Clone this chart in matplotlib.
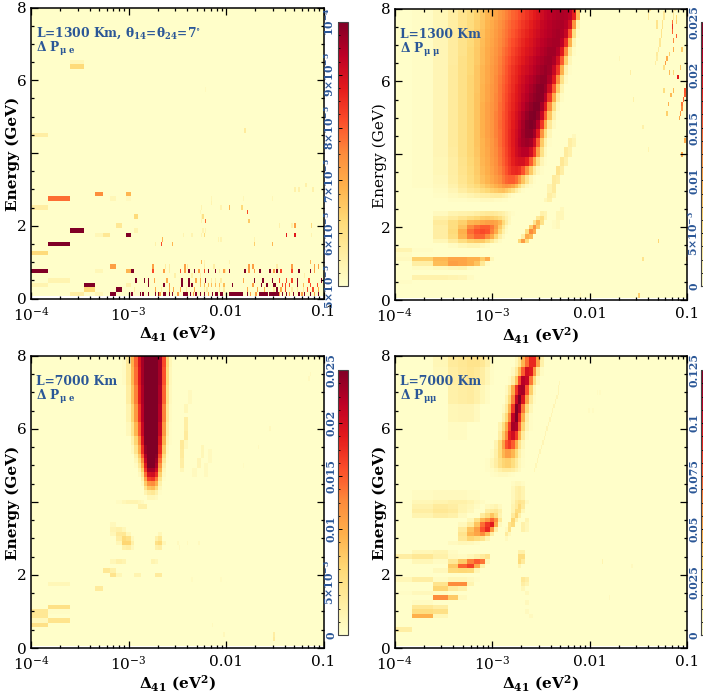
#!/usr/bin/env python3
"""Four oscillation-difference heat maps over Delta_41 and energy."""

import matplotlib
matplotlib.use("Agg")
import matplotlib.pyplot as plt
import numpy as np
from matplotlib.ticker import FixedLocator

plt.rcParams["font.family"] = "DejaVu Serif"
plt.rcParams["mathtext.fontset"] = "dejavuserif"

BLUE = "#2b5797"
W, H = 703, 698

# column edges of the coarse part of each map, in units of 1e-4 eV^2
DELTA_EDGES = [1, 1.5, 2.5, 3.5, 4.5, 5.5, 6.5, 7.5, 8.5, 9.5, 10.5, 11.5, 12.5, 13.5, 14.5,
               15.5, 17, 18.5, 20, 22, 24, 26, 28, 31, 34, 37, 41, 45, 50, 55, 60, 66, 72, 80, 1000]
ENERGY_STEP = 0.125
X_TICKS = [1e-4, 1e-3, 0.01, 0.1]
X_LABELS = [r"$10^{-4}$", r"$10^{-3}$", "0.01", "0.1"]
Y_TICKS = [0, 2, 4, 6, 8]
Y_LABELS = ["0", "2", "", "6", "8"]

# coarse rows: (energy low, energy high, first column, values)
# marks: (energy, value, [Delta_41 in 1e-3 eV^2])

# panel 1, values in 1e-6
PMUE_1300_ROWS = [
    (6.375, 6.375, 2, [62]), (6.5, 6.5, 2, [53]), (4.5, 4.5, 0, [56]),
    (2.75, 2.75, 1, [78]), (2.75, 2.75, 6, [53]), (2.75, 2.75, 9, [52]), (2.5, 2.5, 0, [56]),
    (2.875, 2.875, 4, [75]), (2.875, 2.875, 9, [68]), (2.25, 2.25, 11, [62]),
    (2.0, 2.0, 7, [58]), (1.875, 1.875, 2, [100]), (1.875, 1.875, 11, [54]),
    (1.75, 1.75, 4, [53, 58]), (1.75, 1.75, 9, [100]), (1.5, 1.5, 1, [100]), (1.25, 1.25, 0, [62]),
    (0.75, 0.75, 0, [100]), (0.75, 0.75, 4, [53]), (0.75, 0.75, 9, [68, 100]), (0.875, 0.875, 6, [72]),
    (0.5, 0.5, 1, [54]), (0.375, 0.375, 0, [54]), (0.375, 0.375, 3, [100]), (0.375, 0.375, 9, [55]),
    (0.25, 0.25, 3, [62]), (0.25, 0.25, 7, [100]),
    (0.125, 0.125, 2, [56]), (0.125, 0.125, 4, [53]), (0.125, 0.125, 6, [100]),
]
PMUE_1300_MARKS = [
    (0.125, 100, [1.03, 1.1, 1.32, 1.4, 1.6, 1.87, 2.03, 2.28, 2.43, 2.67, 2.84, 3.66, 3.8, 3.95, 4.1, 4.3,
                  5.0, 5.4, 6.1, 7.4, 7.8, 8.2, 8.8, 9.2, 10.8, 11.2, 11.6, 12.0, 12.4, 12.8, 13.2, 13.6, 14.0, 14.4,
                  16.5, 22.5, 23.3, 24.1, 24.9, 25.7, 26.5, 28, 29, 30, 31, 32, 33, 34, 38, 42, 49, 56, 65, 74, 88]),
    (0.125, 72, [3.25, 2.1, 4.6, 6.6, 18, 20, 35, 45, 60, 80]),
    (0.25, 100, [33]), (0.25, 82, [40, 68, 78]),
    (0.25, 70, [1.9, 2.6, 2.9, 3.4, 4.7, 16.5, 21, 25, 37, 90]),
    (0.25, 56, [1.15, 2.2, 3.9, 6.0, 6.5, 8.5, 9.5, 31, 47, 55, 62]),
    (0.375, 100, [1.6, 2.3, 3.5, 4.2, 4.5, 11.5, 22.8, 26, 31, 32, 55]),
    (0.375, 82, [38, 41, 45, 72, 85]), (0.375, 72, [2.6, 19]),
    (0.375, 67, [5.5, 6.1, 6.6, 7.1, 7.8, 8.6, 9.4, 62]),
    (0.5, 100, [1.2, 1.45, 1.6, 3.6, 4.2, 6.3, 19.5, 24, 30, 55, 96]),
    (0.5, 82, [36, 42, 48, 70]), (0.5, 70, [1.85, 2.5, 5.0, 5.5, 15]), (0.5, 56, [7.1, 7.8, 9]),
    (0.625, 55, [3.0, 4.4, 5.5, 64]),
    (0.75, 100, [4.2, 4.8, 6.6, 7.7, 10.9, 15.7, 22.6, 28, 33, 57, 74]),
    (0.75, 82, [1.75, 3.38, 6.1, 37, 47]), (0.75, 72, [2.3, 3.8, 5.3, 9.6, 17.4, 19.6, 31.6, 82]),
    (0.75, 56, [2.6, 8.5, 10]),
    (0.875, 72, [1.77, 3.75, 17.2, 19.3, 47, 80, 88]), (0.875, 56, [2.4, 2.6, 4.1, 6, 7.6, 33]),
    (1.0, 68, [5.6, 72]), (1.0, 54, [6.0, 11]),
    (1.5, 82, [2.16]), (1.5, 68, [2.85, 30]), (1.5, 55, [1.88]), (1.5, 64, [19.5]),
    (1.625, 68, [2.23]), (1.625, 54, [8.4, 9, 19.5]),
    (1.75, 88, [42, 51]), (1.75, 62, [6.1]), (1.75, 54, [3.66, 4.45, 5.6, 75]),
    (1.875, 54, [5.87, 6.3]),
    (2.0, 72, [51]), (2.0, 55, [36, 48]), (2.0, 62, [75]),
    (2.125, 78, [6.3]), (2.125, 65, [17]), (2.125, 54, [5.6]),
    (2.25, 60, [5.87]), (2.25, 53, [5.6]),
    (2.375, 82, [16.5]), (2.375, 53, [5.4]),
    (2.5, 68, [10.8]), (2.5, 62, [14.7]), (2.5, 54, [5.6, 8.8]),
    (2.625, 54, [7.0]), (2.75, 53, [7.0, 15, 30]),
    (3.0, 55, [51, 57, 78]), (3.125, 55, [66]),
    (4.625, 57, [15.6]), (5.75, 52, [6.2]),
]

# panel 2, values in % of 0.025
PMUMU_1300_ROWS = [
    (7.75, 8.0, 0, [1, 2, 6, 12, 18, 22, 27, 31, 36, 38, 42, 46, 49, 52, 55, 58, 60, 63, 66, 69, 72, 75, 78, 82, 85, 87, 89, 90, 91, 90, 87, 74, 35]),
    (7.5, 7.625, 0, [1, 2, 6, 12, 18, 23, 28, 32, 37, 40, 44, 48, 51, 54, 57, 60, 62, 65, 68, 71, 74, 77, 80, 84, 86, 88, 90, 91, 91, 88, 80, 48, 8]),
    (7.25, 7.375, 0, [1, 2, 6, 13, 19, 24, 29, 33, 38, 41, 45, 49, 52, 55, 58, 61, 64, 67, 70, 73, 76, 79, 82, 85, 87, 89, 91, 92, 90, 84, 62, 22, 3]),
    (7.0, 7.125, 0, [1, 2, 7, 13, 19, 24, 29, 34, 39, 42, 46, 50, 53, 56, 60, 63, 66, 69, 72, 75, 78, 81, 84, 87, 89, 91, 92, 92, 87, 70, 38, 8, 1]),
    (6.75, 6.875, 0, [1, 2, 7, 13, 19, 25, 30, 35, 40, 43, 47, 51, 55, 58, 61, 65, 68, 71, 74, 77, 80, 83, 86, 89, 91, 93, 93, 89, 76, 50, 15, 3, 1]),
    (6.5, 6.625, 0, [1, 2, 7, 13, 20, 25, 30, 35, 40, 44, 48, 52, 56, 60, 63, 67, 70, 73, 76, 80, 83, 86, 89, 91, 93, 94, 91, 80, 60, 28, 6, 1, 1]),
    (6.25, 6.375, 0, [1, 2, 7, 14, 20, 25, 31, 36, 41, 45, 49, 53, 57, 61, 65, 69, 72, 75, 79, 82, 85, 88, 91, 93, 95, 93, 84, 68, 38, 10, 2, 1, 1]),
    (6.0, 6.125, 0, [1, 2, 7, 14, 20, 26, 31, 36, 41, 45, 50, 54, 58, 62, 66, 70, 73, 77, 81, 85, 88, 91, 94, 96, 96, 90, 76, 50, 20, 4, 1, 1, 1]),
    (5.75, 5.875, 0, [1, 2, 7, 14, 20, 26, 31, 37, 42, 46, 50, 55, 59, 63, 67, 71, 75, 79, 83, 87, 91, 94, 97, 98, 94, 82, 60, 30, 8, 1, 1, 1, 1]),
    (5.5, 5.625, 0, [1, 2, 7, 14, 20, 26, 32, 37, 42, 46, 51, 55, 60, 64, 68, 72, 76, 80, 85, 89, 93, 96, 98, 97, 88, 68, 40, 14, 3, 1, 1, 1, 1]),
    (5.25, 5.375, 0, [1, 2, 7, 14, 20, 26, 32, 38, 43, 47, 51, 56, 60, 65, 69, 73, 77, 82, 87, 92, 96, 99, 99, 92, 76, 50, 22, 5, 1, 1, 1, 1, 1]),
    (5.0, 5.125, 0, [1, 2, 7, 14, 20, 26, 32, 38, 43, 47, 52, 56, 61, 65, 70, 74, 79, 84, 90, 95, 99, 100, 96, 84, 60, 32, 10, 2, 1, 1, 1, 1, 1]),
    (4.75, 4.875, 0, [1, 2, 7, 14, 20, 26, 32, 38, 43, 47, 52, 57, 61, 66, 70, 75, 80, 86, 92, 98, 100, 98, 88, 68, 40, 15, 4, 1, 1, 1, 1, 1, 1]),
    (4.5, 4.625, 0, [1, 2, 7, 14, 20, 26, 32, 38, 43, 47, 52, 56, 61, 66, 71, 76, 81, 87, 93, 97, 98, 92, 76, 48, 22, 6, 1, 1, 1, 1, 1, 1, 1]),
    (4.25, 4.375, 0, [1, 2, 7, 14, 20, 26, 32, 37, 42, 46, 51, 56, 61, 66, 71, 76, 82, 88, 92, 94, 92, 82, 60, 30, 10, 2, 1, 1, 1, 1, 1, 1, 1]),
    (4.0, 4.125, 0, [1, 2, 7, 13, 20, 26, 31, 37, 41, 46, 50, 55, 60, 65, 70, 75, 81, 85, 88, 88, 82, 68, 44, 20, 5, 1, 1, 1, 1, 1, 1, 1, 1]),
    (3.75, 3.875, 0, [1, 2, 6, 12, 19, 25, 30, 36, 40, 45, 49, 54, 59, 64, 69, 74, 78, 80, 80, 74, 60, 40, 20, 7, 2]),
    (3.5, 3.625, 0, [1, 2, 6, 12, 18, 24, 29, 35, 39, 43, 48, 52, 57, 62, 67, 71, 72, 70, 62, 48, 30, 14, 5, 2]),
    (3.25, 3.375, 0, [1, 2, 5, 11, 17, 23, 28, 33, 37, 41, 45, 49, 54, 58, 60, 60, 56, 46, 32, 18, 7, 2]),
    (3.125, 3.125, 0, [1, 2, 4, 9, 15, 20, 24, 28, 32, 35, 38, 42, 46, 48, 46, 42, 34, 24, 12, 5, 2]),
    (3.0, 3.0, 0, [1, 1, 3, 7, 12, 16, 18, 22, 25, 28, 30, 32, 33, 30, 26, 20, 12, 6, 2]),
    (2.875, 2.875, 0, [1, 1, 2, 4, 6, 8, 10, 11, 12, 13, 14, 14, 12, 9, 5, 2, 1]),
    (2.75, 2.75, 2, [1, 2, 2, 3, 3, 4, 4, 4, 3, 3, 2, 2]),
    (2.375, 2.375, 2, [4, 8, 9, 10, 12, 14, 15, 15, 14, 12, 10, 7, 4, 2]),
    (2.25, 2.25, 2, [10, 14, 18, 22, 25, 28, 29, 28, 26, 22, 16, 10, 5]),
    (2.125, 2.125, 2, [14, 22, 28, 36, 38, 42, 44, 44, 42, 36, 24, 12, 4]),
    (2.0, 2.0, 2, [12, 22, 32, 50, 56, 60, 60, 54, 44, 30, 16, 5]),
    (1.875, 1.875, 2, [12, 24, 38, 56, 62, 64, 62, 52, 40, 24, 10, 3]),
    (1.75, 1.75, 2, [12, 22, 36, 52, 58, 58, 50, 40, 26, 12, 4]),
    (1.625, 1.625, 2, [6, 14, 22, 28, 30, 30, 24, 16, 8, 3]),
    (1.5, 1.5, 3, [3, 6, 8, 8, 5, 3]),
    (1.375, 1.375, 0, [8, 2]), (1.25, 1.25, 0, [3]),
    (1.125, 1.125, 0, [4, 28, 36, 42, 42, 38, 38, 30, 40, 6]),
    (1.0, 1.0, 1, [12, 34, 44, 42, 38, 32, 16, 3]),
    (0.875, 0.875, 1, [3, 5, 7, 8, 3]),
    (0.625, 0.625, 1, [9, 9, 8, 7, 3]), (0.5, 0.5, 0, [2]),
    (1.625, 1.625, 17, [25, 45, 22]), (1.75, 1.75, 18, [12, 40, 35]),
    (1.875, 1.875, 19, [22, 50, 40]), (2.0, 2.0, 20, [28, 48, 30]),
    (2.125, 2.125, 21, [18, 35, 20]), (2.25, 2.25, 22, [16, 22, 8]), (2.375, 2.375, 23, [10, 8]),
    (2.75, 2.75, 24, [6, 10]), (2.875, 2.875, 25, [12, 8]), (3.0, 3.125, 25, [8, 14]),
    (3.25, 3.375, 26, [14, 12]), (3.5, 3.625, 27, [18, 12]), (3.75, 3.875, 28, [16, 10]),
    (4.0, 4.125, 29, [14, 10]), (4.25, 4.375, 30, [12, 8]), (4.5, 4.5, 31, [5]),
    (2.0, 2.125, 26, [3, 5]), (2.25, 2.375, 27, [6, 6]), (2.5, 2.5, 28, [5]),
]
PMUMU_1300_MARKS = [
    (8.0, 15, [42, 60, 75]), (7.875, 15, [41, 59, 74]), (7.75, 15, [40, 58, 73]), (7.625, 18, [57, 50]),
    (7.5, 18, [56, 50]), (7.375, 18, [55]), (7.25, 18, [54]), (7.125, 16, [53]), (7.0, 16, [52]), (6.875, 14, [51]),
    (6.75, 14, [50]), (6.625, 12, [49]), (6.5, 12, [48]),
    (7.5, 70, [70]), (7.625, 55, [70]), (7.375, 58, [71]), (7.625, 30, [78]), (7.75, 25, [78]),
    (7.25, 60, [79]), (7.125, 50, [72]), (6.875, 40, [74]), (6.875, 30, [90]), (6.75, 28, [67]),
    (6.625, 40, [63]), (6.5, 45, [61]), (6.375, 20, [59]), (6.25, 35, [66]), (6.375, 32, [85]),
    (6.125, 75, [82]), (6.25, 25, [73]), (5.75, 22, [58]), (5.75, 35, [74]), (5.625, 35, [68]),
    (5.375, 38, [65]), (5.125, 28, [62]),
    (5.0, 40, [84]), (5.125, 45, [86]), (5.25, 50, [88]), (5.375, 55, [90]), (5.5, 58, [92]),
    (5.625, 60, [94]), (5.75, 62, [96]), (5.875, 62, [98]), (4.375, 40, [96]), (4.0, 42, [90]),
    (6.625, 6, [20]), (6.25, 12, [26]), (5.5, 10, [28]), (4.75, 10, [36]), (4.125, 8, [40]),
    (0.125, 28, [32]), (1.125, 18, [35]), (1.625, 26, [50.6]), (0.125, 5, [8]), (1.125, 40, [97]),
]

# panel 3, values in % of 0.025
PMUE_7000_ROWS = [
    (7.75, 8.0, 8, [3, 14, 38, 58, 78, 92, 100, 100, 100, 100, 92, 64, 26, 6]),
    (7.25, 7.625, 8, [3, 14, 36, 56, 76, 92, 100, 100, 100, 100, 92, 62, 24, 5]),
    (6.75, 7.125, 9, [12, 32, 52, 74, 90, 100, 100, 100, 100, 90, 58, 20, 4]),
    (6.25, 6.625, 9, [8, 26, 46, 68, 88, 100, 100, 100, 100, 88, 52, 16, 3]),
    (5.875, 6.125, 9, [5, 18, 36, 60, 84, 100, 100, 100, 100, 84, 46, 12, 2]),
    (5.625, 5.75, 10, [10, 26, 50, 78, 100, 100, 100, 100, 78, 38, 8, 2]),
    (5.375, 5.5, 10, [5, 18, 40, 70, 96, 100, 100, 100, 72, 30, 5, 1]),
    (5.25, 5.25, 11, [10, 30, 60, 90, 100, 100, 98, 64, 22, 3]),
    (5.125, 5.125, 11, [6, 22, 50, 84, 100, 100, 94, 56, 16, 2]),
    (5.0, 5.0, 11, [3, 15, 38, 76, 100, 100, 90, 48, 10]),
    (4.875, 4.875, 12, [8, 28, 68, 92, 92, 82, 38, 6]),
    (4.75, 4.75, 12, [4, 18, 56, 80, 82, 70, 28, 4]),
    (4.625, 4.625, 13, [10, 42, 66, 68, 54, 18, 2]),
    (4.5, 4.5, 13, [5, 30, 48, 50, 38, 10]),
    (4.375, 4.375, 14, [18, 32, 34, 24, 5]),
    (4.25, 4.25, 14, [8, 14, 16, 10, 2]),
    (4.125, 4.125, 15, [6, 6, 4]),
    (4.0, 4.0, 7, [3, 6, 8, 8, 8, 6, 4]), (3.875, 3.875, 12, [10, 10, 10]),
    (3.375, 3.375, 6, [5]), (3.25, 3.25, 6, [8, 10, 6]), (3.125, 3.125, 6, [6, 15, 16, 6]),
    (3.0, 3.0, 7, [12, 24, 20, 5]), (2.875, 2.875, 7, [6, 26, 26, 10]), (2.75, 2.75, 8, [10, 12, 5]),
    (3.125, 3.125, 18, [6]), (3.0, 3.0, 17, [10, 16]), (2.875, 2.875, 17, [20, 24, 6]), (2.75, 2.75, 17, [10, 12]),
    (2.375, 2.375, 6, [6, 10, 8]), (2.375, 2.375, 16, [8, 6]),
    (2.125, 2.125, 5, [16, 10]), (2.0, 2.0, 6, [18, 6]), (2.0, 2.0, 11, [8, 8]), (2.0, 2.0, 17, [14, 14]),
    (1.625, 1.625, 4, [14]), (1.75, 1.75, 1, [6]), (1.125, 1.125, 1, [20]), (1.0, 1.0, 0, [16, 2]),
    (0.875, 0.875, 0, [16]), (0.75, 0.75, 0, [5, 18]), (0.625, 0.625, 0, [20]),
    (4.875, 4.875, 24, [6]), (5.0, 5.125, 24, [12]), (5.25, 5.375, 24, [14]), (5.5, 5.625, 24, [15, 5]),
    (5.75, 5.875, 25, [14]), (6.0, 6.25, 25, [12]), (6.5, 6.625, 25, [6]), (6.75, 7.0, 26, [4]),
    (4.75, 4.875, 27, [4]), (5.0, 5.125, 28, [7]), (5.25, 5.5, 29, [6]),
    (4.75, 5.0, 30, [4]), (5.125, 5.375, 31, [4]),
]
PMUE_7000_MARKS = [
    (0.25, 14, [30.6]), (0.375, 12, [30.6]), (0.625, 4, [7.4]), (0.375, 5, [9.5]),
    (7.5, 4, [72]), (7.375, 4, [70]), (6.0, 4, [28]), (5.5, 4, [22]), (5.0, 3, [15]),
    (2.875, 4, [3.2, 4.1, 5.2]), (2.75, 4, [3.3]), (1.875, 3, [4.5, 9]),
]

# panel 4, values in % of 0.125
PMUMU_7000_ROWS = [
    (7.75, 8.0, 16, [6, 16, 36, 56, 72, 72, 44, 10]),
    (7.5, 7.625, 15, [4, 14, 34, 60, 80, 76, 48, 16, 3]),
    (7.25, 7.375, 14, [3, 12, 32, 64, 88, 84, 54, 22, 5]),
    (7.0, 7.125, 13, [4, 16, 40, 68, 90, 92, 62, 28, 6]),
    (6.75, 6.875, 13, [8, 24, 52, 84, 100, 78, 44, 14, 3]),
    (6.5, 6.625, 12, [4, 14, 36, 68, 100, 90, 54, 24, 6]),
    (6.25, 6.375, 12, [10, 24, 50, 86, 100, 72, 38, 12, 2]),
    (6.0, 6.125, 11, [8, 22, 40, 66, 92, 90, 58, 26, 8, 2]),
    (5.75, 5.875, 11, [12, 30, 50, 74, 82, 68, 38, 14, 3]),
    (5.5, 5.625, 10, [8, 24, 44, 62, 68, 60, 40, 18, 6]),
    (5.25, 5.375, 9, [3, 10, 24, 36, 44, 44, 36, 24, 10, 3]),
    (5.0, 5.125, 8, [2, 6, 12, 20, 26, 28, 28, 22, 14, 6, 2]),
    (4.875, 4.875, 8, [2, 3, 6, 10, 14, 14, 14, 12, 8, 4]),
    (4.75, 4.75, 9, [2, 3, 4, 4, 4, 3, 2]),
    (7.75, 8.0, 2, [6, 14, 16, 18, 18, 16, 10, 3]),
    (7.25, 7.625, 2, [5, 12, 15, 17, 15, 12, 6, 2]),
    (6.75, 7.125, 3, [10, 12, 13, 10, 6, 3]),
    (6.25, 6.625, 3, [6, 7, 7, 4]),
    (5.75, 6.125, 3, [3, 3]),
    (4.125, 4.25, 1, [3, 4, 4, 4, 3, 3]),
    (4.0, 4.0, 1, [6, 8, 10, 10, 8, 5, 3]),
    (3.875, 3.875, 1, [9, 14, 12, 8, 6, 3]),
    (3.75, 3.75, 1, [12, 16, 14, 8, 5]),
    (3.625, 3.625, 1, [8, 12, 10, 4]),
    (3.875, 3.875, 8, [4, 6, 8, 4]),
    (3.75, 3.75, 8, [12, 14, 16, 10]),
    (3.625, 3.625, 7, [14, 22, 32, 22, 8]),
    (3.5, 3.5, 5, [6, 20, 36, 46, 58, 48, 16]),
    (3.375, 3.375, 4, [5, 14, 32, 56, 68, 76, 40, 5]),
    (3.25, 3.25, 4, [14, 32, 44, 62, 72, 46, 12]),
    (3.125, 3.125, 4, [18, 36, 42, 50, 34, 12]),
    (3.0, 3.0, 4, [16, 26, 22, 18, 8]),
    (2.875, 2.875, 3, [4, 6, 5, 3]),
    (3.0, 3.0, 13, [4]), (3.125, 3.125, 13, [14, 5]), (3.25, 3.25, 13, [4, 20]),
    (3.375, 3.375, 14, [18, 24]), (3.5, 3.5, 15, [26, 10]), (3.625, 3.625, 15, [14, 26, 10]),
    (3.75, 3.75, 15, [8, 22, 22, 6]), (3.875, 3.875, 15, [8, 14, 24, 14]),
    (4.0, 4.0, 15, [6, 14, 18, 16, 4]), (4.125, 4.375, 15, [5, 10, 12, 8]), (4.5, 4.5, 15, [3, 5, 5, 3]),
    (3.25, 3.375, 18, [10, 6]), (3.5, 3.5, 19, [8]),
    (2.625, 2.625, 1, [6, 8, 3]), (2.625, 2.625, 17, [10, 10]),
    (2.5, 2.5, 0, [12, 16, 10, 4, 3, 6, 10, 14, 18]), (2.5, 2.5, 17, [22, 22]),
    (2.375, 2.375, 1, [6, 3, 16, 30, 52, 60, 55, 6]), (2.375, 2.375, 17, [24, 14]),
    (2.25, 2.25, 3, [30, 58, 66, 40, 10]), (2.25, 2.25, 17, [8]),
    (2.125, 2.125, 2, [5, 24, 25, 24, 6]),
    (1.875, 1.875, 0, [6, 12, 3, 6, 6, 4, 2]), (1.875, 1.875, 18, [16, 12]),
    (1.75, 1.75, 2, [18, 50, 50, 8]), (1.75, 1.75, 18, [12, 8]),
    (1.625, 1.625, 2, [26, 14, 10]), (1.625, 1.625, 18, [6]),
    (1.5, 1.5, 0, [2, 5, 3]), (1.5, 1.5, 19, [5]),
    (1.375, 1.375, 2, [50, 30, 4]),
    (1.25, 1.25, 1, [3]), (1.25, 1.25, 19, [5]),
    (1.125, 1.125, 1, [16, 12]), (1.0, 1.0, 1, [22, 20]), (1.0, 1.0, 19, [4]),
    (0.875, 0.875, 1, [38, 6]), (0.875, 0.875, 20, [4]), (0.5, 0.5, 0, [12]),
]
PMUMU_7000_MARKS = [
    (7.25, 6, [4.9]), (7.125, 7, [4.8]), (7.0, 7, [4.7]), (6.875, 7, [4.6]), (6.75, 7, [4.5]), (6.625, 7, [4.35]),
    (6.5, 7, [4.2]), (6.375, 7, [4.05]), (6.25, 7, [3.95]), (6.125, 7, [3.8]), (6.0, 7, [3.7]), (5.875, 7, [3.55]),
    (5.75, 7, [3.45]), (5.625, 7, [3.35]), (5.5, 7, [3.2]), (5.375, 7, [3.1]), (5.25, 7, [3.0]), (5.125, 7, [2.9]),
    (5.0, 6, [2.8]), (4.875, 6, [2.7]),
    (7.0, 3, [12, 13]), (6.5, 3, [11, 10]),
    (2.375, 8, [13.8]), (1.375, 4, [16]), (2.25, 4, [27]),
]

PANEL_TITLES = [r"L=1300 Km, θ$_{\mathbf{14}}$=θ$_{\mathbf{24}}$=7$^{\circ}$", "L=1300 Km", "L=7000 Km", "L=7000 Km"]
PANEL_SUBS = [r"Δ P$_{\mathbf{\mu\ e}}$", r"Δ P$_{\mathbf{\mu\ \mu}}$",
              r"Δ P$_{\mathbf{\mu\ e}}$", r"Δ P$_{\mathbf{\mu\mu}}$"]
CBAR_TICKS = [
    [5e-5, 6e-5, 7e-5, 8e-5, 9e-5, 1e-4],
    [0, 0.005, 0.01, 0.015, 0.02, 0.025],
    [0, 0.005, 0.01, 0.015, 0.02, 0.025],
    [0, 0.025, 0.05, 0.075, 0.1, 0.125],
]
CBAR_LABELS = [
    [rf"{n}×10$^{{\mathbf{{-5}}}}$" for n in (5, 6, 7, 8, 9)] + [r"10$^{\mathbf{-4}}$"],
    ["0", r"5×10$^{\mathbf{-3}}$", "0.01", "0.015", "0.02", "0.025"],
    ["0", r"5×10$^{\mathbf{-3}}$", "0.01", "0.015", "0.02", "0.025"],
    ["0", "0.025", "0.05", "0.075", "0.1", "0.125"],
]


def px_axes(fig, left, top, right, bottom):
    """Add axes given by pixel edges, measured from the top left."""
    return fig.add_axes([left / W, 1 - bottom / H, (right - left) / W, (bottom - top) / H])


def row_index(energy):
    return int(round(energy / ENERGY_STEP)) - 1


def coarse_grid(rows, base):
    grid = np.full((64, len(DELTA_EDGES) - 1), float(base))
    for low, high, first, values in rows:
        grid[row_index(low):row_index(high) + 1, first:first + len(values)] = values
    return grid


def mark_grid(marks, edges):
    grid = np.full((64, len(edges) - 1), np.nan)
    for energy, value, deltas in marks:
        cols = np.searchsorted(edges, np.array(deltas) * 1e-3) - 1
        grid[row_index(energy), np.clip(cols, 0, len(edges) - 2)] = value
    return grid


def draw_panel(fig, index, box, cbar_box, rows, marks, unit, vmin, vmax, base, minor_step, bold_y=True):
    ax = px_axes(fig, *box)
    x_coarse = np.array(DELTA_EDGES) * 1e-4
    x_fine = np.geomspace(1e-3, 0.1, 141)
    y = ENERGY_STEP * (np.arange(65) + 0.5)
    mesh = ax.pcolormesh(x_coarse, y, coarse_grid(rows, base) * unit, cmap="YlOrRd",
                         vmin=vmin, vmax=vmax, linewidth=0, rasterized=True)
    ax.pcolormesh(x_fine, y, np.ma.masked_invalid(mark_grid(marks, x_fine)) * unit, cmap="YlOrRd",
                  vmin=vmin, vmax=vmax, linewidth=0, rasterized=True)
    ax.set_xscale("log")
    ax.set_xlim(1e-4, 0.1)
    ax.set_ylim(0, 8)
    ax.set_xticks(X_TICKS, X_LABELS)
    ax.set_yticks(Y_TICKS, Y_LABELS)
    ax.set_yticks(np.arange(0, 8.1, 0.5), minor=True)
    ax.tick_params(which="both", direction="in", top=True, right=True, labelsize=11, width=0.9)
    ax.tick_params(which="major", length=5, pad=3)
    ax.tick_params(which="minor", length=2.5)
    ax.tick_params(axis="x", which="major", pad=5)
    for spine in ax.spines.values():
        spine.set_linewidth(1.1)
    ax.set_xlabel(r"$\mathbf{\Delta_{41}}$ (eV$\mathbf{^2}$)", fontsize=11, fontweight="bold", labelpad=0)
    ax.set_ylabel("Energy (GeV)", fontsize=11, fontweight="bold" if bold_y else "normal")
    # the label sits over the gap where the "4" tick label is left out
    ax.yaxis.set_label_coords(-0.038 if index % 2 == 0 else -0.026, 0.497)
    ax.text(0.018, 0.912, PANEL_TITLES[index], transform=ax.transAxes, color=BLUE,
            fontsize=8.8, fontweight="bold", va="center")
    ax.text(0.018, 0.857, PANEL_SUBS[index], transform=ax.transAxes, color=BLUE,
            fontsize=8.8, fontweight="bold", va="center")

    cax = px_axes(fig, *cbar_box)
    cbar = fig.colorbar(mesh, cax=cax)
    cbar.outline.set_linewidth(0.8)
    cbar.outline.set_edgecolor("#444444")
    cax.yaxis.set_ticks_position("left")
    cax.set_yticks(CBAR_TICKS[index], CBAR_LABELS[index])
    ticks = np.arange(vmin, vmax + minor_step / 2, minor_step)
    cax.yaxis.set_minor_locator(FixedLocator(ticks))
    cax.tick_params(which="major", direction="in", length=3, width=0.7, pad=1, labelsize=7.8, labelcolor=BLUE)
    cax.tick_params(which="minor", direction="in", length=1.5, width=0.6)
    for label in cax.get_yticklabels():
        label.set_rotation(90)
        label.set_va("center")
        label.set_fontweight("bold")
    return ax


def main():
    fig = plt.figure(figsize=(W / 100, H / 100), dpi=100)
    draw_panel(fig, 0, (31, 7.5, 323.5, 298.5), (337.5, 22, 347.5, 286),
               PMUE_1300_ROWS, PMUE_1300_MARKS, 1e-6, 5e-5, 1e-4, 50.5, 2.5e-6)
    draw_panel(fig, 1, (394.7, 8.5, 687, 300), (701.3, 22, 711.3, 286),
               PMUMU_1300_ROWS, PMUMU_1300_MARKS, 0.025 / 100, 0, 0.025, 1, 1.25e-3, bold_y=False)
    draw_panel(fig, 2, (31, 355.7, 323.5, 648), (337.5, 370, 347.5, 635),
               PMUE_7000_ROWS, PMUE_7000_MARKS, 0.025 / 100, 0, 0.025, 1, 1.25e-3)
    draw_panel(fig, 3, (394.7, 355.7, 687, 648), (701.3, 370, 711.3, 635),
               PMUMU_7000_ROWS, PMUMU_7000_MARKS, 0.125 / 100, 0, 0.125, 1, 6.25e-3)
    fig.savefig("out.png", dpi=100)
    plt.close(fig)


if __name__ == "__main__":
    main()
